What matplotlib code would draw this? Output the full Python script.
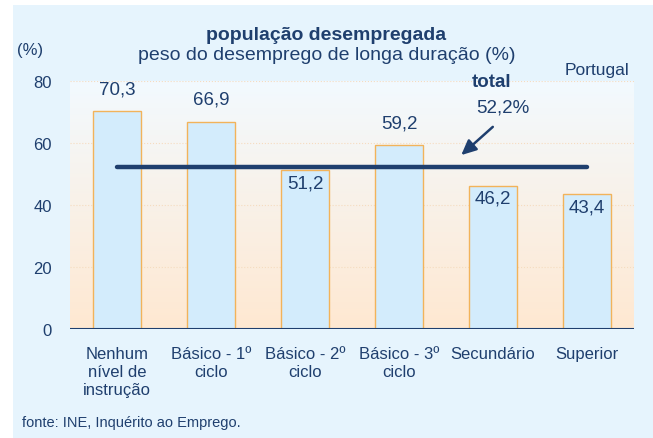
import numpy as np
import matplotlib.pyplot as plt
from matplotlib.patches import Rectangle

plt.rcParams['font.family'] = ['Liberation Sans', 'DejaVu Sans']

# Data: share of long-term unemployment by education level (Portugal)
categories = ['Nenhum\nnível de\ninstrução', 'Básico - 1º\nciclo', 'Básico - 2º\nciclo',
              'Básico - 3º\nciclo', 'Secundário', 'Superior']
values = [70.3, 66.9, 51.2, 59.2, 46.2, 43.4]
value_labels = ['70,3', '66,9', '51,2', '59,2', '46,2', '43,4']
total = 52.2
total_label = '52,2%'
yticks = [0, 20, 40, 60, 80]

navy = '#1f3f6e'
fig = plt.figure(figsize=(6.53, 4.39), dpi=100, facecolor='white')

# light blue panel behind everything
fig.patches.append(Rectangle((13 / 653, 0), 1, 1 - 6 / 439, transform=fig.transFigure,
                             facecolor='#e6f4fd', edgecolor='none', zorder=-10))

ax = fig.add_axes([70 / 653, 1 - 330 / 439, 564 / 653, 248 / 439])
ax.set_zorder(1)
ax.set_facecolor('none')
x = np.arange(len(categories))
ax.set_xlim(-0.5, len(categories) - 0.5)
ax.set_ylim(0, 80)

# vertical gradient: pale blue-white at top, peach at bottom
top = np.array([0.95, 0.98, 1.0])
bot = np.array([1.0, 0.91, 0.82])
t = np.linspace(0, 1, 256)[:, None]
grad = (top * (1 - t) + bot * t)[:, None, :]
ax.imshow(grad, extent=[-0.5, len(categories) - 0.5, 0, 80], aspect='auto', zorder=0)

for yv in yticks[1:]:
    ax.axhline(yv, color='#f5dcc0', lw=0.8, ls=':', zorder=1)

ax.bar(x, values, width=0.52, color='#d3ecfc', edgecolor='#f2b35a', linewidth=1.0, zorder=2)

# labels above the bar, or just inside it when the bar is below the total line
for xi, v, lab in zip(x, values, value_labels):
    dy = 16 if v > total else -9
    ax.annotate(lab, (xi, v), xytext=(0, dy), textcoords='offset points',
                ha='center', va='center', fontsize=13.5, color=navy, zorder=5)

ax.plot([x[0], x[-1]], [total, total], color=navy, lw=3.2, solid_capstyle='round', zorder=3)
ax.annotate('', xy=(3.64, 55.5), xytext=(4.02, 65.8),
            arrowprops=dict(arrowstyle='-|>,head_length=0.9,head_width=0.42', color=navy, lw=1.8))
ax.text(3.99, 79.7, 'total', ha='center', va='center', fontsize=13.5, fontweight='bold', color=navy)
ax.text(4.1, 71.6, total_label, ha='center', va='center', fontsize=13.5, color=navy)

ax.axhline(0, color=navy, lw=1.5, zorder=4)
for s in ax.spines.values():
    s.set_visible(False)
ax.set_yticks(yticks)
ax.set_xticks(x)
ax.set_xticklabels(categories, linespacing=1.25)
ax.tick_params(axis='y', length=0, pad=13, labelsize=12, labelcolor=navy)
ax.tick_params(axis='x', length=0, pad=12, labelsize=12, labelcolor=navy)

fig.text(0.5, 1 - 35 / 439, 'população desempregada', ha='center', va='center',
         fontsize=14, fontweight='bold', color=navy)
fig.text(0.5, 1 - 56 / 439, 'peso do desemprego de longa duração (%)', ha='center', va='center',
         fontsize=14, color=navy)
fig.text(30 / 653, 1 - 50 / 439, '(%)', ha='center', va='center', fontsize=12, color=navy)
fig.text(597 / 653, 1 - 70 / 439, 'Portugal', ha='center', va='center', fontsize=12.5, color=navy)
fig.text(22 / 653, 1 - 423 / 439, 'fonte: INE, Inquérito ao Emprego.', ha='left', va='center',
         fontsize=10.5, color=navy)

fig.savefig('out.png', dpi=100, facecolor=fig.get_facecolor())
